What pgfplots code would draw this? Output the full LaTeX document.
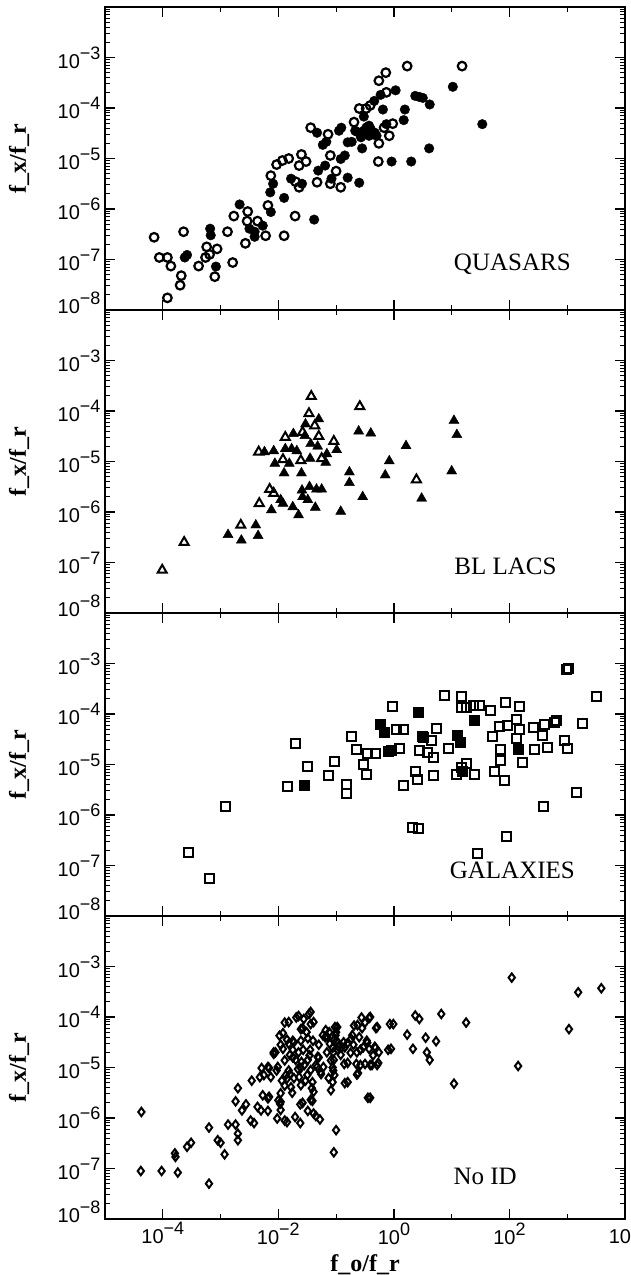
\documentclass[border=0pt]{standalone}
\usepackage{pgfplots}
\pgfplotsset{compat=1.18}
\usepackage{fontspec}
\setmainfont{Liberation Serif}
\newfontfamily\tickfont{Liberation Sans}

% tick label: 10 with a large raised exponent
\newcommand\tl[1]{{\tickfont\fontsize{20}{21}\selectfont 10\raisebox{9pt}{\fontsize{18}{19}\selectfont #1}}}

% minor ticks at 2..9 within each decade (values are log10 of the ratio)
\def\yminor{-7.699,-7.523,-7.398,-7.301,-7.222,-7.155,-7.097,-7.046,-6.699,-6.523,-6.398,-6.301,-6.222,-6.155,-6.097,-6.046,-5.699,-5.523,-5.398,-5.301,-5.222,-5.155,-5.097,-5.046,-4.699,-4.523,-4.398,-4.301,-4.222,-4.155,-4.097,-4.046,-3.699,-3.523,-3.398,-3.301,-3.222,-3.155,-3.097,-3.046,-2.699,-2.523,-2.398,-2.301,-2.222,-2.155,-2.097,-2.046}

\tikzset{tag/.style={font=\fontsize{25}{27}\selectfont}}

\pgfplotsset{
  panel/.style={
    scale only axis, width=520pt, height=303pt,
    xmin=-5, xmax=4, ymin=-8, ymax=-2,
    xtick={-4,-2,0,2,4}, minor xtick={-5,-3,-1,1,3},
    xticklabels={},
    ytick={-8,-7,-6,-5,-4,-3,-2},
    yticklabels={\raisebox{14pt}{\tl{−8}},\tl{−7},\tl{−6},\tl{−5},\tl{−4},\tl{−3},},
    minor ytick=\yminor,
    tick align=inside,
    major tick length=10pt, minor tick length=5pt,
    major tick style={line width=1.4pt, black},
    minor tick style={line width=1pt, black},
    axis line style={line width=1.8pt, black},
    yticklabel style={xshift=-1pt},
    ylabel={\textbf{f\_x/f\_r}},
    ylabel style={at={(axis description cs:-0.165,0.5)}, anchor=center,
                  font=\fontsize{24}{26}\selectfont},
    clip=false,
  },
  opencirc/.style={only marks, mark=o, mark size=4.3pt, mark options={line width=2.2pt, black}},
  fullcirc/.style={only marks, mark=*, mark size=4.8pt, mark options={black, fill=black}},
  opentri/.style={only marks, mark=triangle, mark size=5.2pt, mark options={line width=2pt, black}},
  fulltri/.style={only marks, mark=triangle*, mark size=5.8pt, mark options={black, fill=black}},
  opensq/.style={only marks, mark=square, mark size=4.5pt, mark options={line width=2pt, black}},
  fullsq/.style={only marks, mark=square*, mark size=5pt, mark options={black, fill=black}},
  opendia/.style={only marks, mark=diamond, mark size=4.2pt, mark options={line width=2pt, black}},
}

\begin{document}
\begin{tikzpicture}
\useasboundingbox (0pt,0pt) rectangle (631pt,-1275pt);

% ---------------- quasars ----------------
\begin{axis}[panel, at={(105pt,-7pt)}, anchor=north west]
\addplot[opencirc] coordinates {
(-4.15,-6.56) (-4.06,-6.96) (-3.92,-6.96) (-3.86,-7.13) (-3.68,-7.32) (-3.70,-7.51)
(-3.92,-7.76) (-3.64,-6.45) (-3.38,-7.13) (-3.26,-6.96) (-3.24,-6.75) (-3.19,-6.90)
(-3.06,-6.79) (-3.10,-7.34) (-2.88,-6.45) (-2.79,-7.06) (-2.77,-6.14) (-2.57,-6.68)
(-2.53,-6.05) (-2.54,-6.24) (-2.36,-6.24) (-2.22,-6.53) (-2.18,-5.93) (-1.90,-6.53)
(-1.71,-6.14) (-2.13,-5.34) (-2.03,-5.12) (-1.93,-5.04) (-1.82,-5.00) (-1.64,-5.14)
(-1.60,-4.92) (-1.52,-5.06) (-1.70,-5.46) (-1.64,-5.57) (-1.33,-5.47) (-1.10,-5.50)
(-0.92,-5.57) (-1.00,-5.25) (-1.14,-4.52) (-1.10,-4.94) (-1.44,-4.39) (-0.69,-4.28)
(-0.60,-4.01) (-0.48,-4.01) (-0.41,-3.95) (-0.26,-3.46) (-0.14,-3.30) (0.23,-3.17)
(1.18,-3.17) (-0.13,-3.69) (-0.02,-4.31) (-0.08,-4.55) (-0.26,-4.70) (-0.27,-5.06)
(-0.17,-4.39) (-0.47,-4.39)
};
\addplot[fullcirc] coordinates {
(-3.18,-6.39) (-3.17,-6.52) (-3.08,-7.14) (-3.62,-6.96) (-3.58,-6.91) (-2.67,-5.91)
(-2.50,-6.39) (-2.41,-6.55) (-2.27,-6.33) (-2.13,-6.06) (-2.09,-5.50) (-2.14,-5.67)
(-1.90,-5.78) (-1.78,-5.40) (-1.59,-5.50) (-1.38,-6.21) (-1.33,-4.49) (-1.23,-4.73)
(-1.17,-4.67) (-1.31,-5.24) (-1.19,-5.14) (-1.08,-5.40) (-0.80,-5.38) (-0.60,-5.48)
(-0.92,-5.01) (-0.85,-4.94) (-0.95,-4.45) (-0.91,-4.39) (-0.80,-4.68) (-0.73,-4.67)
(-0.64,-4.47) (-0.57,-4.58) (-0.55,-4.80) (-0.48,-4.49) (-0.40,-4.42) (-0.34,-3.86)
(-0.19,-4.03) (-0.23,-3.74) (-0.13,-4.32) (0.03,-3.65) (0.19,-4.03) (0.17,-4.24)
(0.37,-3.76) (0.44,-3.78) (0.50,-3.80) (0.62,-3.93) (1.02,-3.58) (1.53,-4.32)
(0.61,-4.80) (-0.04,-5.06) (0.30,-5.06) (-0.33,-4.49) (-0.52,-4.17) (-0.43,-4.35)
(-2.41,-6.45) (-0.52,-4.45) (-0.43,-4.55) (-0.30,-4.55) (-0.67,-4.45)
};
\node[tag] at (axis cs:2.05,-7.1) {QUASARS};
\end{axis}

% ---------------- BL Lacs ----------------
\begin{axis}[panel, at={(105pt,-310pt)}, anchor=north west]
\addplot[opentri] coordinates {
(-4.01,-7.15) (-3.63,-6.60) (-2.65,-6.26) (-2.33,-5.83) (-2.15,-5.55) (-2.08,-5.63)
(-2.34,-4.81) (-1.92,-4.96) (-1.88,-4.52) (-1.61,-4.98) (-1.47,-4.05) (-1.43,-3.71)
(-1.37,-4.29) (-1.30,-4.50) (-1.25,-4.94) (-1.04,-4.60) (-0.59,-3.91) (0.39,-5.36)
(-1.58,-4.42)
};
\addplot[fulltri] coordinates {
(-2.87,-6.45) (-2.64,-6.56) (-2.39,-6.26) (-2.35,-6.47) (-2.24,-4.81) (-2.08,-4.79)
(-2.06,-5.04) (-2.12,-5.96) (-1.96,-5.76) (-1.92,-5.83) (-1.90,-5.23) (-1.81,-5.04)
(-1.77,-4.75) (-1.74,-4.45) (-1.68,-4.79) (-1.75,-5.90) (-1.65,-6.06) (-1.60,-5.23)
(-1.59,-5.57) (-1.58,-5.70) (-1.49,-5.76) (-1.36,-5.91) (-1.46,-5.50) (-1.34,-5.55)
(-1.25,-5.55) (-1.45,-4.94) (-1.44,-4.65) (-1.32,-4.70) (-1.30,-4.16) (-1.53,-4.26)
(-1.16,-4.85) (-1.18,-5.02) (-0.99,-4.77) (-0.92,-5.99) (-0.77,-5.21) (-0.77,-5.42)
(-0.61,-4.40) (-0.54,-5.70) (-0.40,-4.44) (-0.15,-5.27) (-0.08,-4.99) (0.21,-4.69)
(0.48,-5.73) (1.00,-5.19) (1.04,-4.19) (1.09,-4.47) (-1.88,-4.75) (-1.54,-4.49)
};
\node[tag] at (axis cs:1.93,-7.08) {BL LACS};
\end{axis}

% ---------------- galaxies ----------------
\begin{axis}[panel, at={(105pt,-613pt)}, anchor=north west]
\addplot[opensq] coordinates {
(-3.56,-6.75) (-3.20,-7.25) (-2.91,-5.84) (-1.84,-5.44) (-1.70,-4.58) (-1.49,-5.04)
(-1.13,-5.21) (-1.02,-4.94) (-0.82,-5.40) (-0.82,-5.58) (-0.73,-4.45) (-0.64,-4.70)
(-0.52,-5.00) (-0.48,-5.19) (-0.46,-4.79) (-0.32,-4.79) (-0.02,-3.86) (0.04,-4.30)
(0.17,-4.30) (0.09,-4.68) (0.16,-5.42) (0.33,-6.25) (0.42,-6.26) (0.38,-5.13)
(0.40,-5.30) (0.49,-4.45) (0.45,-4.73) (0.59,-4.77) (0.65,-4.53) (0.69,-4.87)
(0.68,-5.21) (0.74,-4.28) (0.88,-3.63) (0.95,-4.69) (1.17,-3.65) (1.17,-3.88)
(1.26,-3.88) (1.37,-3.84) (1.49,-3.84) (1.67,-3.93) (1.09,-5.19) (1.17,-5.06)
(1.26,-4.98) (1.39,-5.20) (1.44,-6.77) (1.70,-4.45) (1.83,-4.25) (1.74,-5.13)
(1.84,-4.71) (1.85,-4.92) (1.91,-5.31) (1.94,-3.78) (1.96,-4.23) (1.95,-6.42)
(2.12,-4.10) (2.17,-3.86) (2.17,-4.31) (2.13,-4.49) (2.23,-4.97) (2.41,-4.27)
(2.44,-4.71) (2.58,-4.43) (2.60,-4.20) (2.65,-4.66) (2.59,-5.84) (2.78,-4.16)
(2.82,-4.13) (2.96,-4.53) (3.00,-4.69) (2.98,-3.11) (3.03,-3.10) (3.16,-5.56)
(3.26,-4.18) (3.50,-3.66)
};
\addplot[fullsq] coordinates {
(-1.55,-5.41) (-0.24,-4.20) (-0.17,-4.36) (-0.10,-4.73) (-0.05,-4.71) (0.42,-3.97)
(0.50,-4.45) (1.10,-4.41) (1.15,-4.56) (1.39,-4.12) (2.15,-4.69) (1.18,-5.13)
};
\node[tag] at (axis cs:2.05,-7.09) {GALAXIES};
\end{axis}

% ---------------- unidentified ----------------
\begin{axis}[panel, at={(105pt,-916pt)}, anchor=north west,
    xticklabels={\tl{−4},\tl{−2},\tl{0},\tl{2},\tl{4}},
    xlabel={\textbf{f\_o/f\_r}},
    xlabel style={at={(axis description cs:0.5,-0.152)}, anchor=center,
                  font=\fontsize{24}{26}\selectfont}]
\addplot[opendia] coordinates {
(-4.37,-5.88) (-4.38,-7.05) (-4.02,-7.05) (-3.74,-7.08) (-3.79,-6.70) (-3.78,-6.77)
(-3.58,-6.57) (-3.51,-6.49) (-3.20,-7.30) (-3.20,-6.19) (-3.05,-6.44) (-3.00,-6.49)
(-2.93,-6.72) (-2.87,-6.13) (-2.74,-6.13) (-2.70,-6.31) (-2.70,-6.44) (-2.74,-5.67)
(-2.70,-5.41) (-2.63,-5.85) (-2.56,-5.73) (-2.46,-5.26) (-2.48,-6.05) (-2.42,-6.10)
(-2.32,-5.19) (-2.29,-5.01) (-2.36,-5.78) (-2.30,-5.85) (-2.27,-5.55) (-2.18,-5.61)
(-2.18,-5.86) (-2.16,-5.01) (-2.08,-4.73) (-2.00,-5.65) (-2.02,-6.01) (-1.97,-5.72)
(-1.96,-5.84) (-1.89,-6.05) (-1.85,-6.08) (-1.96,-5.51) (-1.89,-5.36) (-1.85,-5.22)
(-1.80,-5.13) (-1.76,-5.50) (-1.71,-5.98) (-1.62,-5.73) (-1.62,-6.10) (-1.49,-5.86)
(-1.44,-5.64) (-1.39,-5.91) (-1.35,-5.96) (-1.28,-6.03) (-1.42,-5.41) (-1.00,-6.24)
(-1.04,-6.68) (-1.09,-5.45) (-0.85,-5.31) (-0.64,-5.14) (-0.45,-5.60) (-1.89,-4.11)
(-1.69,-4.01) (-1.61,-4.24) (-1.47,-3.94) (-1.44,-4.14) (-1.98,-4.37) (-1.92,-4.63)
(-2.05,-4.70) (-1.89,-4.86) (-1.82,-5.06) (-1.75,-4.80) (-1.66,-5.03) (-1.60,-4.89)
(-1.53,-5.26) (-1.57,-4.65) (-1.46,-4.76) (-1.40,-4.47) (-1.33,-4.99) (-1.26,-5.13)
(-1.19,-4.40) (-1.16,-4.70) (-1.09,-4.86) (-1.05,-5.06) (-1.02,-4.20) (-0.99,-4.47)
(-0.97,-4.66) (-0.90,-4.60) (-0.81,-4.53) (-0.74,-4.43) (-0.69,-4.17) (-0.60,-4.40)
(-0.56,-4.01) (-0.50,-4.11) (-0.43,-4.02) (-0.47,-4.47) (-0.43,-4.63) (-0.36,-4.76)
(-0.31,-4.22) (-0.33,-4.59) (-0.29,-4.95) (-0.38,-4.95) (-0.50,-4.93) (-0.65,-4.93)
(-0.86,-4.93) (-0.26,-4.70) (-0.07,-4.14) (-0.10,-4.65) (0.23,-4.35) (0.33,-4.63)
(0.37,-3.97) (0.44,-4.04) (0.55,-4.41) (0.57,-4.70) (0.62,-4.85) (0.73,-4.48)
(0.82,-3.94) (1.04,-5.32) (1.25,-4.11) (2.04,-3.22) (2.15,-4.97) (3.03,-4.24)
(3.19,-3.51) (3.59,-3.43) (-1.94,-5.26) (-2.13,-5.19) (-2.03,-5.06) (-1.75,-4.47)
(-1.61,-4.47) (-1.11,-4.53) (-0.85,-4.60) (-1.82,-4.53) (-1.51,-4.30) (-1.64,-5.19)
(-1.30,-4.80) (-1.12,-4.30) (-0.64,-4.70) (-0.53,-4.60)
(-1.44,-3.90) (-1.65,-3.98) (-1.82,-4.10) (-1.56,-4.04) (-1.39,-4.10) (-0.98,-4.20)
(-1.58,-4.22) (-1.92,-4.32) (-1.96,-4.55) (-1.73,-4.50) (-1.49,-4.42) (-1.23,-4.36)
(-1.15,-4.40) (-0.72,-4.36) (-0.63,-4.16) (-0.41,-4.00) (-0.29,-4.20) (-0.55,-4.22)
(-0.46,-4.51) (-0.32,-4.61) (-0.27,-4.91) (-0.41,-4.95) (-0.58,-4.95) (-0.80,-4.91)
(-0.62,-5.11) (-0.80,-5.29) (-0.41,-5.60) (-0.01,-4.14) (-0.05,-4.63) (-2.08,-4.70)
(-2.18,-4.99) (-2.25,-5.15) (-2.01,-4.99) (-1.87,-5.15) (-1.73,-5.21) (-1.78,-5.39)
(-1.61,-5.35) (-1.41,-5.29) (-1.27,-5.09) (-1.13,-5.21) (-1.06,-5.29) (-1.39,-5.48)
(-1.58,-5.70) (-1.41,-5.66) (-2.16,-5.58) (-1.96,-5.68) (-1.01,-4.36) (-1.06,-4.61)
(-1.32,-4.79) (-1.49,-4.85) (-1.70,-4.85) (-1.75,-4.65) (-0.92,-4.75) (-0.75,-4.71)
(-0.58,-4.65) (-0.70,-4.55) (-0.87,-4.50) (-1.18,-4.26) (-0.96,-4.59) (-1.22,-4.99)
(-1.44,-5.05) (-1.61,-5.01) (-1.03,-4.45) (-1.05,-4.70) (-1.04,-4.85) (-1.06,-5.00)
(-1.03,-5.15) (-1.00,-4.30) (-1.85,-4.45) (-1.80,-4.75) (-1.65,-4.70) (-1.55,-4.95)
(-1.45,-4.65) (-1.35,-4.95) (-1.30,-4.55) (-1.50,-5.15)
};
\node[tag] at (axis cs:1.58,-7.16) {No ID};
\end{axis}
\end{tikzpicture}
\end{document}
